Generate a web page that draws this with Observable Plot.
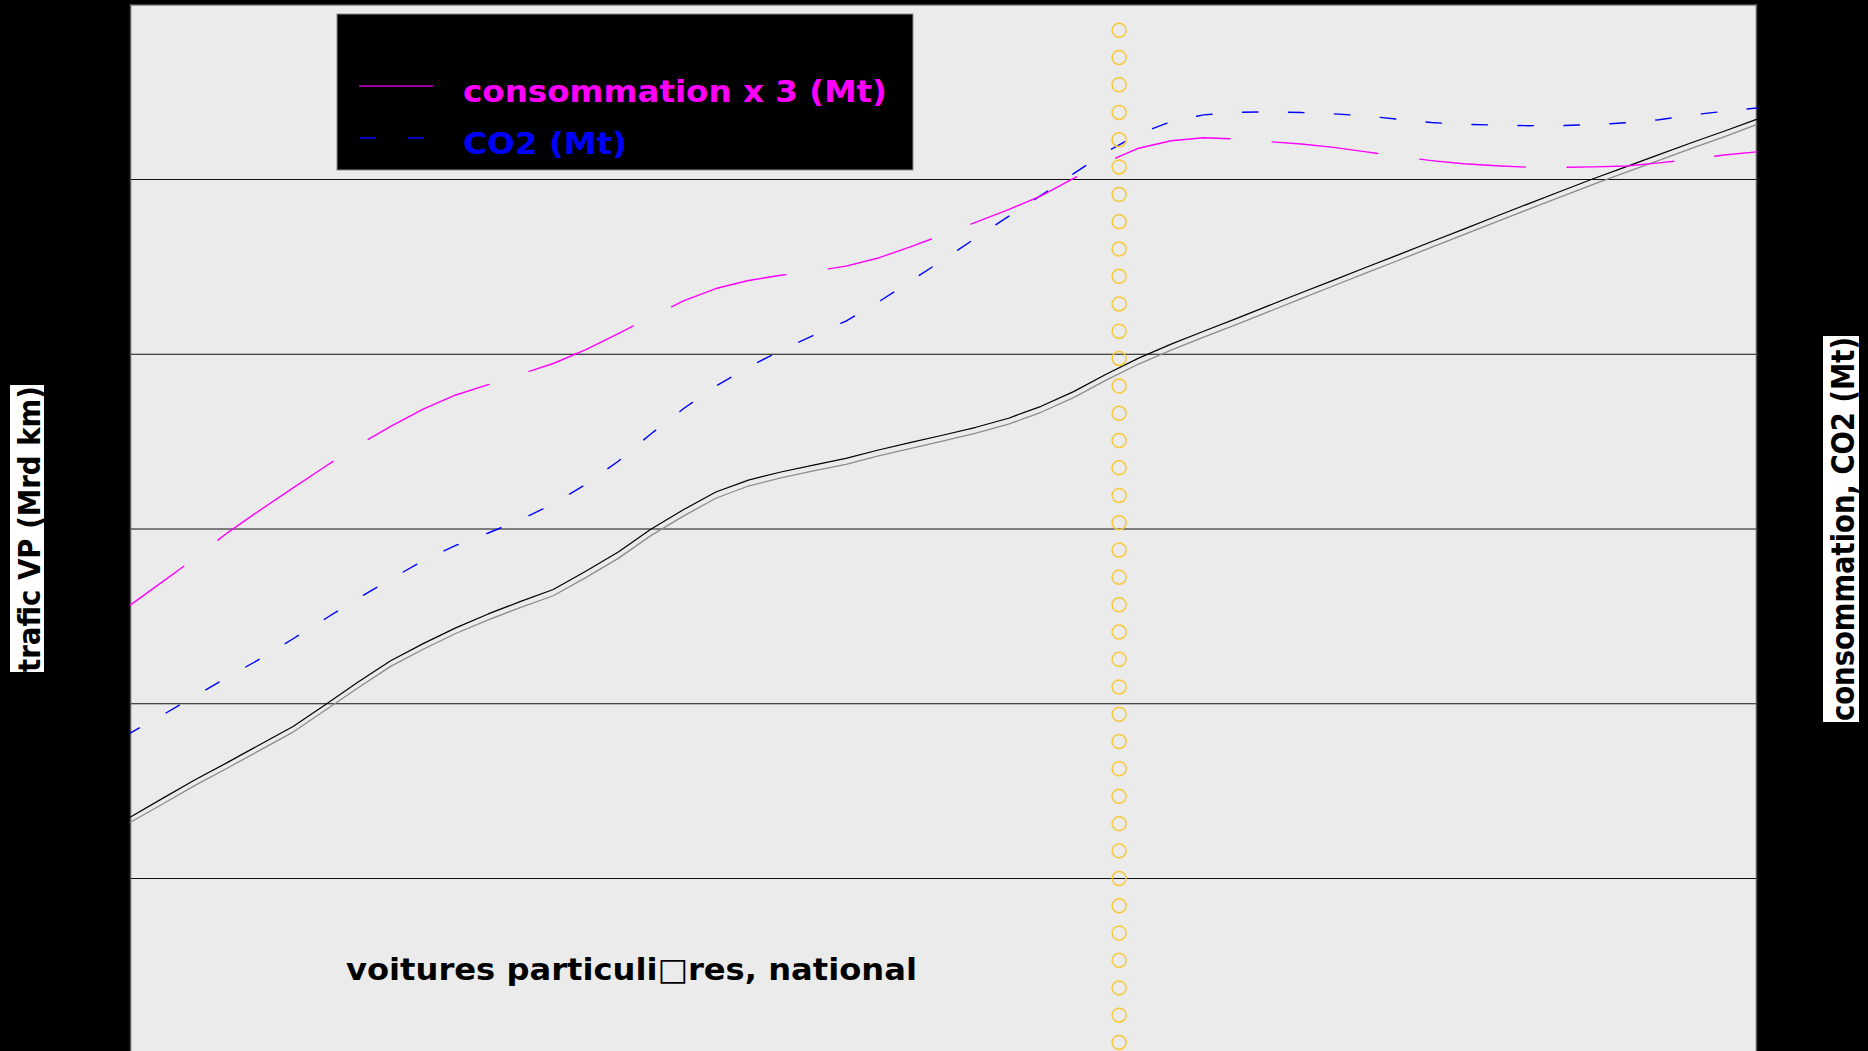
<!DOCTYPE html>
<html><head><meta charset="utf-8">
<script src="https://cdn.jsdelivr.net/npm/d3@7"></script>
<script src="https://cdn.jsdelivr.net/npm/@observablehq/plot@0.6"></script>
<style>
html,body{margin:0;padding:0;background:#000;overflow:hidden;}
#chart{width:1868px;height:1051px;}
</style></head><body><div id="chart"></div>
<script>
// ---- data ----
const years = [1980,1981,1982,1983,1984,1985,1986,1987,1988,1989,1990,1991,1992,1993,1994,1995,1996,1997,1998,1999,2000,2001,2002,2003,2004,2005,2006,2007,2008,2009,2010,2011,2012,2013,2014,2015,2016,2017,2018,2019,2020,2021,2022,2023,2024,2025,2026,2027,2028,2029,2030];
// trafic VP (Mrd km), left axis
const traficVP = [217.6,223.0,228.3,233.3,238.4,243.5,249.8,256.2,262.3,267.2,271.7,275.7,279.3,282.7,287.9,293.4,299.9,305.5,310.6,314.0,316.3,318.3,320.2,322.6,324.8,326.9,329.1,331.7,335.1,339.3,344.3,348.9,352.9,356.6,360.2,363.9,367.6,371.2,374.9,378.5,382.2,385.8,389.5,393.1,396.7,400.3,403.7,407.1,410.5,413.8,417.2];
const traficVP2 = [216.1,221.4,226.7,231.7,236.8,241.9,248.2,254.6,260.7,265.6,270.1,274.0,277.6,280.9,286.1,291.6,298.1,303.7,308.8,312.3,314.6,316.6,318.5,320.9,323.1,325.2,327.4,330.0,333.4,337.6,342.6,347.2,351.2,354.9,358.5,362.2,365.9,369.6,373.3,376.9,380.6,384.2,387.9,391.5,395.1,398.7,402.1,405.5,408.9,412.2,415.7];
// consommation x 3 (Mt), right axis
const consoX3 = [55.66,57.00,58.36,59.81,61.10,62.35,63.59,64.80,65.87,66.86,67.67,68.26,68.86,69.47,70.27,71.18,72.13,73.05,73.76,74.22,74.52,74.76,75.04,75.51,76.16,76.85,77.56,78.28,79.06,80.07,80.99,81.79,82.22,82.39,82.32,82.17,82.03,81.84,81.58,81.33,81.08,80.90,80.79,80.70,80.70,80.72,80.77,80.95,81.15,81.40,81.58];
// CO2 (Mt), right axis
const co2 = [48.33,49.37,50.46,51.54,52.58,53.72,54.88,56.03,57.13,58.19,59.06,59.77,60.54,61.43,62.56,63.88,65.44,66.88,68.18,69.26,70.22,71.08,71.90,72.99,74.20,75.41,76.66,77.89,79.09,80.34,81.56,82.61,83.31,83.70,83.84,83.87,83.83,83.76,83.64,83.44,83.26,83.16,83.11,83.08,83.09,83.14,83.25,83.42,83.69,83.90,84.09];
// vertical marker (yellow circles), left-axis units
const markerYear = 2010.4;
const markerValues = [442.7,434.9,427.1,419.2,411.4,403.6,395.7,387.9,380.1,372.3,364.4,356.6,348.8,340.9,333.1,325.3,317.5,309.6,301.8,294.0,286.2,278.3,270.5,262.7,254.8,247.0,239.2,231.4,223.5,215.7,207.9,200.0,192.2,184.4,176.6,168.7,160.9,153.1];
// grid ticks (left axis) and axis domains
const leftDomain = [150, 450];
const gridTicks = [200, 250, 300, 350, 400];
const rightToLeft = 5; // right axis (Mt) = left axis / 5

// ---- tables ----
const tBlack = years.map((y, i) => ({year: y, v: traficVP[i]}));
const tGray = years.map((y, i) => ({year: y, v: traficVP2[i]}));
const tConso = years.map((y, i) => ({year: y, v: consoX3[i] * rightToLeft}));
const tCO2 = years.map((y, i) => ({year: y, v: co2[i] * rightToLeft}));
const tMarker = markerValues.map(v => ({year: markerYear, v}));

const W = 1868, H = 1051;
const chart = Plot.plot({
  width: W, height: H,
  marginLeft: 130, marginRight: 112, marginTop: 4, marginBottom: 0,
  style: {background: "#000", fontFamily: "DejaVu Sans", overflow: "hidden"},
  x: {domain: [years[0], years[years.length - 1]], axis: null},
  y: {domain: leftDomain, range: [1052.75, 4.25], axis: null},
  marks: [
    Plot.frame({fill: "#ebebeb", stroke: "none"}),
    Plot.ruleY(gridTicks, {stroke: "#111", strokeWidth: 1}),
    Plot.ruleY([leftDomain[1]], {stroke: "#444", strokeWidth: 1.5}),
    Plot.ruleX([years[0], years[years.length - 1]], {stroke: "#555", strokeWidth: 1.5}),
    Plot.line(tGray, {x: "year", y: "v", stroke: "#8c8c8c", strokeWidth: 1.3}),
    Plot.line(tBlack, {x: "year", y: "v", stroke: "#000", strokeWidth: 1.2}),
    Plot.line(tCO2, {x: "year", y: "v", stroke: "#0000ff", strokeWidth: 1.4,
      strokeDasharray: "15.5,30.5", strokeDashoffset: 5.3}),
    Plot.line(tConso, {x: "year", y: "v", stroke: "#ff00ff", strokeWidth: 1.4,
      strokeDasharray: "65.8,43,139.5,41.5,133.3,42,113.8,42.8,119.6,42.6,107.7,42.2,116,43.2,117.5,42.3,106.3,42.4,105.9,41.7,106.9,41.3,400,0"}),
    Plot.dot(tMarker, {x: "year", y: "v", r: 7, stroke: "#f6c93a", strokeWidth: 1.5, fill: "none"})
  ]
});
document.getElementById("chart").appendChild(chart);

// ---- annotations: legend, footer, axis titles ----
const svg = d3.select(chart);
const font = "DejaVu Sans";
function label(sel) {
  return sel.attr("text-anchor", "start").attr("font-family", font).attr("font-weight", "bold")
    .attr("lengthAdjust", "spacingAndGlyphs");
}
const lg = svg.append("g");
lg.append("rect").attr("x", 337).attr("y", 14).attr("width", 576).attr("height", 156)
  .attr("fill", "#000").attr("stroke", "#8a8a8a").attr("stroke-width", 1);
lg.append("line").attr("x1", 359).attr("x2", 433).attr("y1", 86).attr("y2", 86)
  .attr("stroke", "#d000d0").attr("stroke-width", 1.5);
lg.append("line").attr("x1", 360).attr("x2", 433).attr("y1", 138).attr("y2", 138)
  .attr("stroke", "#0000ff").attr("stroke-width", 1.5).attr("stroke-dasharray", "16,32");
label(lg.append("text")).attr("x", 463).attr("y", 102).text("consommation x 3 (Mt)")
  .attr("fill", "#ff00ff").attr("font-size", 30).attr("textLength", 424);
label(lg.append("text")).attr("x", 463).attr("y", 154).text("CO2 (Mt)")
  .attr("fill", "#0000ff").attr("font-size", 30).attr("textLength", 164);

label(svg.append("text")).attr("x", 346).attr("y", 980).text("voitures particuli\u25A1res, national")
  .attr("fill", "#000").attr("font-size", 31).attr("textLength", 571);

// left axis title
svg.append("rect").attr("x", 10).attr("y", 385).attr("width", 34).attr("height", 287).attr("fill", "#fff");
label(svg.append("text")).attr("transform", "translate(39.5,672) rotate(-90)").text("trafic VP (Mrd km)")
  .attr("fill", "#000").attr("font-size", 30).attr("textLength", 286);
// right axis title
svg.append("rect").attr("x", 1823).attr("y", 336).attr("width", 36).attr("height", 386).attr("fill", "#fff");
label(svg.append("text")).attr("transform", "translate(1854,721) rotate(-90)").text("consommation, CO2 (Mt)")
  .attr("fill", "#000").attr("font-size", 32).attr("textLength", 384);
</script>
</body></html>
